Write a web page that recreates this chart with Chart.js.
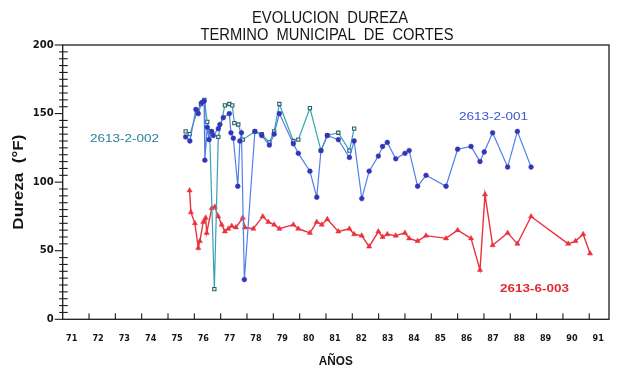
<!DOCTYPE html>
<html><head><meta charset="utf-8">
<script src="https://cdn.jsdelivr.net/npm/chart.js@4.4.1/dist/chart.umd.min.js"></script>
<style>html,body{margin:0;padding:0;background:#fff;}#wrap{width:617px;height:370px;}</style>
</head><body><div id="wrap"><canvas id="c" width="617" height="370"></canvas></div>
<script>
// ---- data ----
const yearsB = [75.67,75.83,76.06,76.15,76.28,76.37,76.40,76.49,76.56,76.66,76.72,76.91,76.97,77.10,77.33,77.39,77.48,77.65,77.73,77.79,77.90,78.30,78.56,78.85,79.03,79.23,79.76,79.95,80.39,80.65,80.81,81.05,81.47,81.89,82.07,82.36,82.64,82.99,83.15,83.33,83.65,84.00,84.16,84.48,84.80,85.56,86.00,86.51,86.85,87.01,87.33,87.90,88.27,88.79];
const valuesB = [133,130,153,150,158,159,116,140,131,137,134,139,142,147,150,136,132,97,130,136,29,137,134,127,135,150,128,121,108,89,123,134,131,118,130,88,108,119,126,129,117,121,123,97,105,97,124,126,115,122,136,111,137,111];

const yearsT = [75.67,75.83,76.10,76.25,76.38,76.49,76.58,76.76,76.91,77.16,77.33,77.44,77.52,77.67,77.84,78.30,78.56,78.85,79.03,79.23,79.76,79.95,80.39,80.81,81.05,81.47,81.89,82.07];
const valuesT = [137,135,151,157,160,144,137,22,133,156,157,156,143,142,131,137,135,129,137,157,130,131,154,123,134,136,123,139];

const yearsR = [75.82,75.87,76.02,76.15,76.21,76.34,76.43,76.47,76.66,76.78,76.91,77.04,77.16,77.29,77.42,77.58,77.84,77.92,78.24,78.60,78.81,79.03,79.23,79.76,79.95,80.39,80.65,80.84,81.05,81.47,81.89,82.07,82.36,82.64,82.99,83.15,83.33,83.65,84.00,84.16,84.48,84.80,85.56,86.00,86.51,86.85,87.04,87.33,87.90,88.27,88.79,90.20,90.48,90.77,91.03];
const valuesR = [94,78,70,52,57,71,74,63,81,82,75,69,64,66,68,67,74,67,66,75,71,69,66,69,66,63,71,69,73,64,66,62,61,53,64,60,62,61,63,59,57,61,59,65,59,36,91,54,63,55,75,55,57,62,48];

const seriesNames = ['2613-2-001','2613-2-002','2613-6-003'];
const xTickLabels = ['71','72','73','74','75','76','77','78','79','80','81','82','83','84','85','86','87','88','89','90','91'];
const yTickLabels = ['0','50','100','150','200'];
const titleLines = ['EVOLUCION  DUREZA','TERMINO  MUNICIPAL  DE  CORTES'];
const xTitle = 'AÑOS';
const yTitle = 'Dureza  (°F)';

// ---- build ----
const pts = (xs, ys) => xs.map((x,i)=>({x:x, y:ys[i]}));
const xFirst = parseFloat(xTickLabels[0]);
const yMin = parseFloat(yTickLabels[0]), yMax = parseFloat(yTickLabels[yTickLabels.length-1]);

const annotations = [
  {text: seriesNames[1], x: 73.35, y: 131.5, color: '#2b7f9c', w: 69, bold: false},
  {text: seriesNames[0], x: 87.36, y: 147.6, color: '#3a56d2', w: 69, bold: false},
  {text: seriesNames[2], x: 88.92, y: 21.9, color: '#e02a34', w: 69, bold: true}
];

function fitText(ctx, text, cx, cy, width, font, color, rot){
  ctx.save();
  ctx.font = font; ctx.fillStyle = color;
  ctx.textAlign = 'center'; ctx.textBaseline = 'middle';
  const m = ctx.measureText(text).width;
  ctx.translate(cx, cy);
  if (rot) ctx.rotate(rot);
  ctx.scale(width / m, 1);
  ctx.fillText(text, 0, 0);
  ctx.restore();
}

const decor = {
  id: 'decor',
  beforeDatasetsDraw(chart){
    const ctx = chart.ctx, a = chart.chartArea, xs = chart.scales.x, ys = chart.scales.y;
    ctx.save();
    ctx.strokeStyle = '#1c1c1c'; ctx.lineWidth = 1.3;
    ctx.strokeRect(a.left, a.top, a.right - a.left, a.bottom - a.top);
    ctx.lineWidth = 1.1;
    const yMajor = yTickLabels.map(Number);
    for (let v = yMin; v <= yMax; v += 5){
      const y = ys.getPixelForValue(v);
      ctx.beginPath();
      if (yMajor.includes(v)) { ctx.moveTo(a.left - 8, y); ctx.lineTo(a.left, y); }
      else { ctx.moveTo(a.left - 3.5, y); ctx.lineTo(a.left + 5, y); }
      ctx.stroke();
    }
    xTickLabels.forEach((t, i) => {
      if (i === 0) return;
      const x = xs.getPixelForValue(parseFloat(t));
      ctx.beginPath(); ctx.moveTo(x, a.bottom); ctx.lineTo(x, a.bottom - 6); ctx.stroke();
    });
    ctx.restore();
  },
  afterDraw(chart){
    const ctx = chart.ctx, a = chart.chartArea, xs = chart.scales.x, ys = chart.scales.y;
    fitText(ctx, titleLines[0], 330, 19, 156, '16px "Liberation Sans", Arial, sans-serif', '#151515');
    fitText(ctx, titleLines[1], 327, 35.5, 253, '16px "Liberation Sans", Arial, sans-serif', '#151515');
    fitText(ctx, xTitle, (a.left + a.right) / 2, 361.5, 34, 'bold 13px "Liberation Sans", Arial, sans-serif', '#151515');
    fitText(ctx, yTitle, 18.5, (a.top + a.bottom) / 2, 95, 'bold 15px "Liberation Sans", Arial, sans-serif', '#151515', -Math.PI / 2);
    annotations.forEach(an => {
      fitText(ctx, an.text, xs.getPixelForValue(an.x), ys.getPixelForValue(an.y), an.w,
        (an.bold ? 'bold ' : '') + '11px "Liberation Sans", Arial, sans-serif', an.color);
    });
  }
};

new Chart(document.getElementById('c'), {
  type: 'line',
  data: {
    datasets: [
      {label: seriesNames[0], data: pts(yearsB, valuesB), borderColor: '#4f80e8', borderWidth: 1.2,
       pointStyle: 'circle', pointRadius: 2.4, pointBackgroundColor: '#3434b8', pointBorderColor: '#3434b8', pointBorderWidth: 0.5, order: 1},
      {label: seriesNames[1], data: pts(yearsT, valuesT), borderColor: '#3aa2b4', borderWidth: 1.2,
       pointStyle: 'rect', pointRadius: 2.3, pointBackgroundColor: '#eaf7f6', pointBorderColor: '#2a5f6e', pointBorderWidth: 1.1, order: 2},
      {label: seriesNames[2], data: pts(yearsR, valuesR), borderColor: '#e8323c', borderWidth: 1.4,
       pointStyle: 'triangle', pointRadius: 3.0, pointBackgroundColor: '#e8323c', pointBorderColor: '#e8323c', pointBorderWidth: 0.5, order: 3}
    ]
  },
  options: {
    responsive: false, animation: false, devicePixelRatio: 1,
    layout: {padding: {top: 45, right: 8, left: 0, bottom: 0}},
    plugins: {legend: {display: false}, tooltip: {enabled: false}, title: {display: false}},
    elements: {line: {tension: 0}},
    scales: {
      x: {type: 'linear', min: xFirst, max: 91.75,
        grid: {display: false, drawTicks: false}, border: {display: false},
        ticks: {stepSize: 1, includeBounds: false, autoSkip: false, maxRotation: 0, padding: 14, labelOffset: 9,
          color: '#151515', font: {family: '"Liberation Sans Narrow","DejaVu Sans Condensed","Liberation Sans",sans-serif', weight: 'bold', size: 9},
          callback: v => { const i = xTickLabels.indexOf(String(v)); return i >= 0 ? xTickLabels[i] : ''; }},
        afterFit: s => { s.height = 50.7; }
      },
      y: {type: 'linear', min: yMin, max: yMax,
        grid: {display: false, drawTicks: false}, border: {display: false},
        ticks: {stepSize: 50, padding: 9, color: '#151515',
          font: {family: '"DejaVu Sans",sans-serif', weight: 'bold', size: 10},
          callback: v => { const i = yTickLabels.indexOf(String(v)); return i >= 0 ? yTickLabels[i] : ''; }},
        afterFit: s => { s.width = 62.7; }
      }
    }
  },
  plugins: [decor]
});
</script>
</body></html>
